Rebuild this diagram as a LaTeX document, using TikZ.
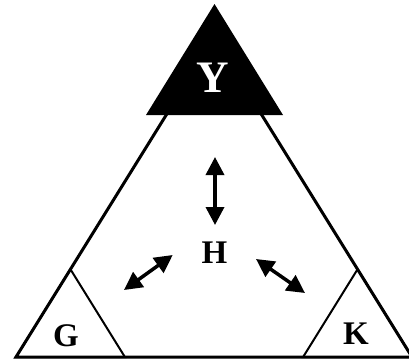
\documentclass[tikz,border=0pt]{standalone}
\usepackage{fontspec}
\setmainfont{Liberation Serif}
\usetikzlibrary{arrows.meta,calc}

\begin{document}
\begin{tikzpicture}[x=1pt,y=-1pt,>={Triangle[length=18pt,width=18pt]},
 side/.style={line width=3pt,line join=miter},
 corner/.style={line width=2pt,line join=miter},
 dbl/.style={<->,line width=3.5pt},
 lbl/.style={font=\bfseries\fontsize{33}{33}\selectfont,inner sep=0pt}]
\useasboundingbox (0,0) rectangle (409,362);
\clip (0,0) rectangle (409,362);
% outer triangle
\coordinate (top) at (214,38);
\coordinate (bl) at (16,357);
\coordinate (br) at (412,357);
\draw[side] (top) -- (bl) -- (br) -- cycle;
% black cap
\coordinate (ytop) at (214.5,4);
\coordinate (yl) at (146,115);
\coordinate (yr) at (283,115);
\fill (ytop) -- (yl) -- (yr) -- cycle;
% corner triangles
\draw[corner] (bl) -- ($(bl)!0.275!(top)$) -- ($(bl)!0.275!(br)$) -- cycle;
\draw[corner] (br) -- ($(br)!0.275!(top)$) -- ($(br)!0.275!(bl)$) -- cycle;
% labels
\node[lbl,text=white,font=\bfseries\fontsize{45}{45}\selectfont] (Y) at (213,78) {Y};
\node[lbl] (H) at (214.5,252.5) {H};
\node[lbl] (G) at (66,335.5) {G};
\node[lbl] (K) at (356,333.5) {K};
% arrows
\coordinate (v1) at (215,157);
\coordinate (v2) at (215,225);
\coordinate (g1) at (124,290);
\coordinate (g2) at (172.7,255);
\coordinate (k1) at (256,259);
\coordinate (k2) at (305,293);
\draw[dbl] (v1) -- (v2);
\draw[dbl] (g1) -- (g2);
\draw[dbl] (k1) -- (k2);
\end{tikzpicture}
\end{document}
